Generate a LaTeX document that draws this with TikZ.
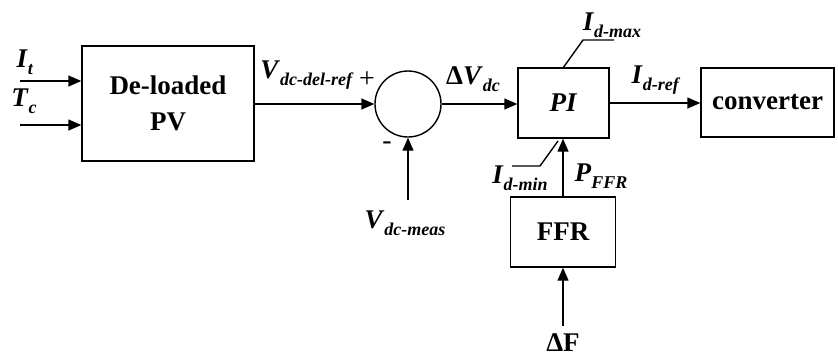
\documentclass[tikz,border=0pt]{standalone}
\usepackage{fontspec}
\setmainfont{Liberation Serif}
\usetikzlibrary{arrows.meta}
\newcommand{\lbl}[2]{\textbf{\textit{#1}}\raisebox{-0.25em}{\fontsize{18}{18}\selectfont\textbf{\textit{#2}}}}
\begin{document}
\begin{tikzpicture}[x=1pt,y=-1pt,
  line width=1.4pt,
  every node/.style={font=\fontsize{27}{36}\selectfont\bfseries, inner sep=0pt},
  blk/.style={draw, rectangle, align=center},
  arr/.style={-{Triangle[length=13pt,width=11pt]}}]
\useasboundingbox (0,0) rectangle (838,360);
% blocks
\node[blk, minimum width=172pt, minimum height=115pt] (pv) at (168,103.5) {De-loaded\\PV};
\node[draw, circle, minimum size=66pt] (sum) at (408,104) {};
\node[blk, minimum width=91pt, minimum height=70pt] (pi) at (563.5,103) {\textit{PI}};
\node[blk, minimum width=133pt, minimum height=69pt] (conv) at (767.5,102.5) {converter};
\node[blk, minimum width=105pt, minimum height=70pt] (ffr) at (563,232) {FFR};
% free ends
\coordinate (it) at (20,81);
\coordinate (tc) at (20,125);
\coordinate (meas) at (408,200);
\coordinate (df) at (563,326);
\coordinate (maxa) at (563,68);
\coordinate (maxb) at (583,40);
\coordinate (maxc) at (614,40);
\coordinate (mina) at (558,141);
\coordinate (minb) at (540,166);
\coordinate (minc) at (512,166);
% connectors
\draw[arr] (it) -- (it -| pv.west);
\draw[arr] (tc) -- (tc -| pv.west);
\draw[arr] (pv.east |- sum.west) -- (sum.west);
\draw[arr] (sum.east) -- (sum.east -| pi.west);
\draw[arr] (pi.east) -- (pi.east -| conv.west);
\draw[arr] (meas) -- (sum.south);
\draw[arr] (ffr.north) -- (ffr.north |- pi.south);
\draw[arr] (df) -- (ffr.south);
\draw (maxa) -- (maxb) -- (maxc);
\draw (mina) -- (minb) -- (minc);
% labels
\node (lit) at (25,62) {\lbl{I}{t}};
\node (ltc) at (24,101) {\lbl{T}{c}};
\node (lref) at (307,75) {\lbl{V}{dc-del-ref}};
\node[font=\fontsize{28}{30}\selectfont] (lplus) at (367,80) {+};
\node[font=\fontsize{28}{30}\selectfont] (lminus) at (387,146) {-};
\node (ldv) at (473,79) {Δ\lbl{V}{dc}};
\node (lmeas) at (405,223) {\lbl{V}{dc-meas}};
\node (lmax) at (612,25) {\lbl{I}{d-max}};
\node (lidref) at (656,80) {\lbl{I}{d-ref}};
\node (lmin) at (520,178) {\lbl{I}{d-min}};
\node (lpffr) at (601,176) {\lbl{P}{FFR}};
\node (ldf) at (563,343) {ΔF};
\end{tikzpicture}
\end{document}
